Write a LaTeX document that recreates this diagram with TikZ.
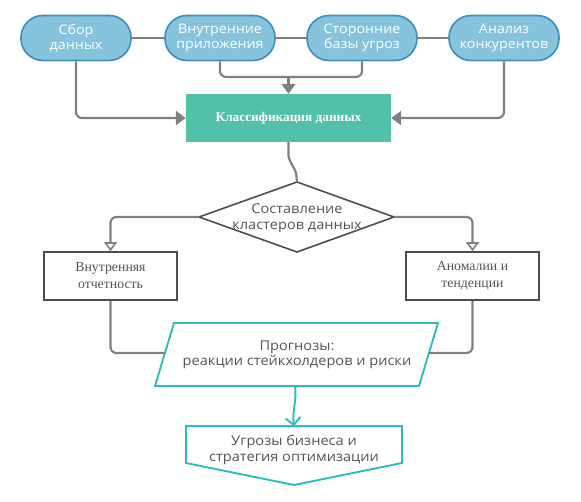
\documentclass[tikz,border=0pt]{standalone}
\usepackage{fontspec}
\setmainfont{Liberation Serif}
\setsansfont{Open Sans}[FakeStretch=1.08]
\usetikzlibrary{arrows.meta}
\definecolor{ovfill}{HTML}{86C4DE}
\definecolor{ovline}{HTML}{4490BE}
\definecolor{tealfill}{HTML}{52C1A9}
\definecolor{tealline}{HTML}{2DBDC0}
\definecolor{conn}{HTML}{808080}
\definecolor{txtgray}{HTML}{555555}
\definecolor{boxline}{HTML}{4D4D4D}
\begin{document}
\begin{tikzpicture}[x=1pt,y=-1pt,
  oval/.style={draw=ovline,fill=ovfill,line width=1.7pt,rounded corners=22pt,
    minimum width=110pt,minimum height=45pt,inner sep=0pt,align=center,
    text=white,font=\sffamily\fontsize{13.2}{15.5}\selectfont},
  clsbox/.style={fill=tealfill,minimum width=205pt,minimum height=48pt,inner sep=0pt,
    text=white,font=\bfseries\fontsize{13.3}{16}\selectfont},
  sidebox/.style={draw=boxline,line width=1.6pt,fill=white,minimum width=133pt,
    minimum height=48pt,inner sep=0pt,align=center,text=txtgray,
    font=\fontsize{13.8}{17}\selectfont},
  sanstext/.style={align=center,inner sep=0pt,text=txtgray,
    font=\sffamily\fontsize{13.5}{15.5}\selectfont},
  gconn/.style={draw=conn,line width=2.2pt,rounded corners=6pt},
  garrow/.style={gconn,-{Triangle[width=14pt,length=10pt]}},
  oarrow/.style={gconn,-{Triangle[open,width=13pt,length=9pt,line width=1.6pt]}},
  tarrow/.style={draw=tealline,line width=1.9pt,-{Straight Barb[width=15pt,length=7pt,line width=1.9pt]}},
  tshape/.style={draw=tealline,line width=1.9pt,fill=white,line join=miter},
  dshape/.style={draw=boxline,line width=1.6pt,fill=white}
]
\useasboundingbox[fill=white] (0,0) rectangle (581,501);

% top ovals
\node[oval] (o1) at (76,38) {Сбор\\данных};
\node[oval] (o2) at (220,38) {Внутренние\\приложения};
\node[oval] (o3) at (362,38) {Сторонние\\базы угроз};
\node[oval] (o4) at (504,38) {Анализ\\конкурентов};

% classification box
\node[clsbox] (cl) at (288.5,118) {Классификация данных};

% diamond
\coordinate (dT) at (297,182);
\coordinate (dR) at (394,217);
\coordinate (dB) at (297,252);
\coordinate (dL) at (199,217);
\draw[dshape] (dT) -- (dR) -- (dB) -- (dL) -- cycle;
\node[sanstext] (dm) at (297,218) {Составление\\кластеров данных};

% side boxes
\node[sidebox] (lb) at (110.5,276) {Внутренняя\\отчетность};
\node[sidebox] (rb) at (472.5,276) {Аномалии и\\тенденции};

% parallelogram
\coordinate (pTL) at (174,323);
\coordinate (pTR) at (438,323);
\coordinate (pBR) at (419,386);
\coordinate (pBL) at (155,386);
\coordinate (pL) at (164.9,353);
\coordinate (pR) at (428.9,353);
\coordinate (pBot) at (295,386);
\draw[tshape] (pTL) -- (pTR) -- (pBR) -- (pBL) -- cycle;
\node[sanstext] (pr) at (297,355) {Прогнозы:\\реакции стейкхолдеров и риски};

% bottom pentagon
\coordinate (gTL) at (186,426);
\coordinate (gTR) at (402,426);
\coordinate (gRB) at (402,463);
\coordinate (gP) at (294,485);
\coordinate (gLB) at (186,463);
\coordinate (gT) at (294,426);
\draw[tshape] (gTL) -- (gTR) -- (gRB) -- (gP) -- (gLB) -- cycle;
\node[sanstext] (gn) at (294,450) {Угрозы бизнеса и\\стратегия оптимизации};

% connectors among ovals
\draw[gconn] (o1) -- (o2);
\draw[gconn] (o2) -- (o3);
\draw[gconn] (o3) -- (o4);

\coordinate (mj) at (288.5,77);
\draw[garrow] (o1.south) |- (cl.west);
\draw[garrow] (o4.south) |- (cl.east);
\draw[gconn] (o2.south) |- (mj) -| (o3.south);
\draw[garrow] (mj) -- (cl.north);

% classification to diamond
\coordinate (j1) at (288.5,158);
\coordinate (j2) at (296,172);
\draw[gconn,rounded corners=3pt] (cl.south) -- (j1) -- (j2) -- (dT);

% diamond to side boxes
\draw[oarrow] (dL) -| (lb.north);
\draw[oarrow] (dR) -| (rb.north);

% side boxes to parallelogram
\draw[gconn] (lb.south) |- (pL);
\draw[gconn] (rb.south) |- (pR);

% parallelogram to pentagon
\draw[tarrow] (pBot) .. controls (297,402) and (292,410) .. (gT);
\end{tikzpicture}
\end{document}
